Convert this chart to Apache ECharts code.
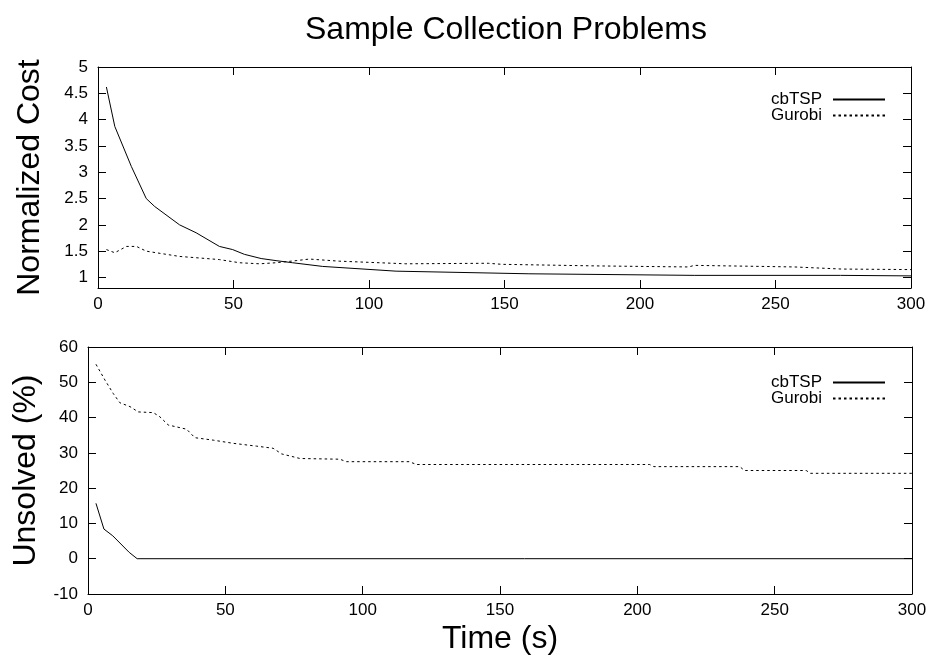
<!DOCTYPE html>
<html>
<head>
<meta charset="utf-8">
<script src="https://cdn.jsdelivr.net/npm/echarts@6/dist/echarts.min.js"></script>
<style>html,body{margin:0;padding:0;background:#fff}#c{width:931px;height:656px}</style>
</head>
<body>
<div id="c"></div>
<script>
// ---- data ----
var costCbTime   = [3.1, 6.2, 12.3, 17.8, 20.9, 30.1, 36.2, 44.8, 49.7, 54, 60.2, 65.7, 71.8, 82.9, 110, 159, 220, 274, 300];
var costCb       = [4.62, 3.87, 3.11, 2.50, 2.35, 2.0, 1.85, 1.59, 1.53, 1.44, 1.36, 1.32, 1.28, 1.21, 1.12, 1.07, 1.04, 1.04, 1.03];
var costGuTime   = [3.1, 6.2, 10.5, 14.2, 17.8, 30.1, 37.5, 44.8, 52.2, 59.6, 65.7, 73.1, 78, 89, 113.6, 144, 149, 183.6, 218, 220, 245, 257, 274.5, 300];
var costGu       = [1.53, 1.47, 1.59, 1.59, 1.50, 1.40, 1.37, 1.34, 1.28, 1.26, 1.28, 1.32, 1.35, 1.31, 1.26, 1.27, 1.25, 1.22, 1.20, 1.23, 1.21, 1.20, 1.16, 1.15];
var unsCbTime    = [2.9, 5.8, 9, 15, 17.9, 300];
var unsCb        = [15.7, 8.4, 6.5, 1.8, 0, 0];
var unsGuTime    = [2.9, 6.2, 9.2, 11.6, 15.3, 18.3, 23.8, 26.2, 29.2, 35.9, 38.9, 45.6, 52.9, 61.4, 67.4, 70.5, 77.2, 91.7, 94.1, 117, 119.6, 204.5, 206, 237.3, 239, 261.5, 263, 300];
var unsGu        = [55.1, 50.6, 46.8, 44.2, 43.1, 41.6, 41.4, 40.2, 37.9, 36.7, 34.3, 33.6, 32.7, 31.9, 31.3, 29.7, 28.4, 28.2, 27.5, 27.5, 26.7, 26.7, 26.1, 26.1, 25.0, 25.0, 24.2, 24.2];
var costTicks    = [1, 1.5, 2, 2.5, 3, 3.5, 4, 4.5, 5];
var seriesNames  = ['cbTSP', 'Gurobi'];
var titleText    = 'Sample Collection Problems';
var xName        = 'Time (s)';
var yNameTop     = 'Normalized Cost';
var yNameBottom  = 'Unsolved (%)';

function pairs(t, v) { return t.map(function (x, i) { return [x, v[i]]; }); }

var FONT = 'Liberation Sans, Arial, sans-serif';
var TICKFS = 17;
var NAMEFS = 32;
var black = '#000';

function xAx(grid, pos, showLabel, name) {
  return {
    type: 'value', gridIndex: grid, position: pos, min: 0, max: 300, interval: 50,
    axisLine: { show: true, onZero: false, lineStyle: { color: black, width: 1 } },
    axisTick: { show: true, inside: true, length: 8, lineStyle: { color: black } },
    axisLabel: { show: showLabel, color: black, fontFamily: FONT, fontSize: TICKFS, margin: 8 },
    splitLine: { show: false },
    name: name || '', nameLocation: 'middle', nameGap: 29,
    nameTextStyle: { color: black, fontFamily: FONT, fontSize: NAMEFS }
  };
}

function legendAt(top) {
  return {
    data: seriesNames.map(function (n) { return { name: n }; }),
    orient: 'vertical', align: 'right', right: 40, top: top,
    itemWidth: 52, itemHeight: 14, itemGap: -1,
    itemStyle: { color: 'rgba(0,0,0,0)', borderColor: 'rgba(0,0,0,0)', borderWidth: 0, opacity: 0 },
    textStyle: { color: black, fontFamily: FONT, fontSize: 17, lineHeight: 15, padding: [0, 6, 0, 0] },
    selectedMode: false
  };
}

var chart = echarts.init(document.getElementById('c'), null, { renderer: 'canvas' });
var option = {
  backgroundColor: '#fff',
  animation: false,
  graphic: [{
    type: 'text', x: 506, y: 30,
    style: { text: titleText, fill: black, font: '32px ' + FONT, align: 'center', verticalAlign: 'middle' }
  }],
  grid: [
    { left: 98, right: 20, top: 67, height: 221, show: false },
    { left: 88, right: 19, top: 347, height: 247, show: false }
  ],
  legend: [legendAt(86), legendAt(369)],
  xAxis: [
    xAx(0, 'bottom', true),
    xAx(0, 'top', false),
    xAx(1, 'bottom', true, xName),
    xAx(1, 'top', false)
  ],
  yAxis: [
    {
      type: 'value', gridIndex: 0, position: 'left', min: 0.8, max: 5,
      axisLine: { show: true, onZero: false, lineStyle: { color: black } },
      axisTick: { show: true, inside: true, length: 8, customValues: costTicks, lineStyle: { color: black } },
      axisLabel: { color: black, fontFamily: FONT, fontSize: TICKFS, margin: 10, customValues: costTicks },
      splitLine: { show: false },
      name: yNameTop, nameLocation: 'middle', nameGap: 52,
      nameTextStyle: { color: black, fontFamily: FONT, fontSize: NAMEFS }
    },
    {
      type: 'value', gridIndex: 0, position: 'right', min: 0.8, max: 5,
      axisLine: { show: true, onZero: false, lineStyle: { color: black } },
      axisTick: { show: true, inside: true, length: 8, customValues: costTicks, lineStyle: { color: black } },
      axisLabel: { show: false, customValues: costTicks },
      splitLine: { show: false }
    },
    {
      type: 'value', gridIndex: 1, position: 'left', min: -10, max: 60, interval: 10,
      axisLine: { show: true, onZero: false, lineStyle: { color: black } },
      axisTick: { show: true, inside: true, length: 8, lineStyle: { color: black } },
      axisLabel: { color: black, fontFamily: FONT, fontSize: TICKFS, margin: 10 },
      splitLine: { show: false },
      name: yNameBottom, nameLocation: 'middle', nameGap: 42,
      nameTextStyle: { color: black, fontFamily: FONT, fontSize: NAMEFS }
    },
    {
      type: 'value', gridIndex: 1, position: 'right', min: -10, max: 60, interval: 10,
      axisLine: { show: true, onZero: false, lineStyle: { color: black } },
      axisTick: { show: true, inside: true, length: 8, lineStyle: { color: black } },
      axisLabel: { show: false },
      splitLine: { show: false }
    }
  ],
  series: [
    { name: seriesNames[0], type: 'line', xAxisIndex: 0, yAxisIndex: 0, data: pairs(costCbTime, costCb),
      symbol: 'none', lineStyle: { color: black, width: 1, type: 'solid' }, itemStyle: { color: black } },
    { name: seriesNames[1], type: 'line', xAxisIndex: 0, yAxisIndex: 0, data: pairs(costGuTime, costGu),
      symbol: 'none', lineStyle: { color: black, width: 1, type: [2.5, 3] }, itemStyle: { color: black } },
    { name: seriesNames[0], type: 'line', xAxisIndex: 2, yAxisIndex: 2, data: pairs(unsCbTime, unsCb),
      symbol: 'none', lineStyle: { color: black, width: 1, type: 'solid' }, itemStyle: { color: black } },
    { name: seriesNames[1], type: 'line', xAxisIndex: 2, yAxisIndex: 2, data: pairs(unsGuTime, unsGu),
      symbol: 'none', lineStyle: { color: black, width: 1, type: [2.5, 3] }, itemStyle: { color: black } }
  ]
};
chart.setOption(option);
</script>
</body>
</html>
